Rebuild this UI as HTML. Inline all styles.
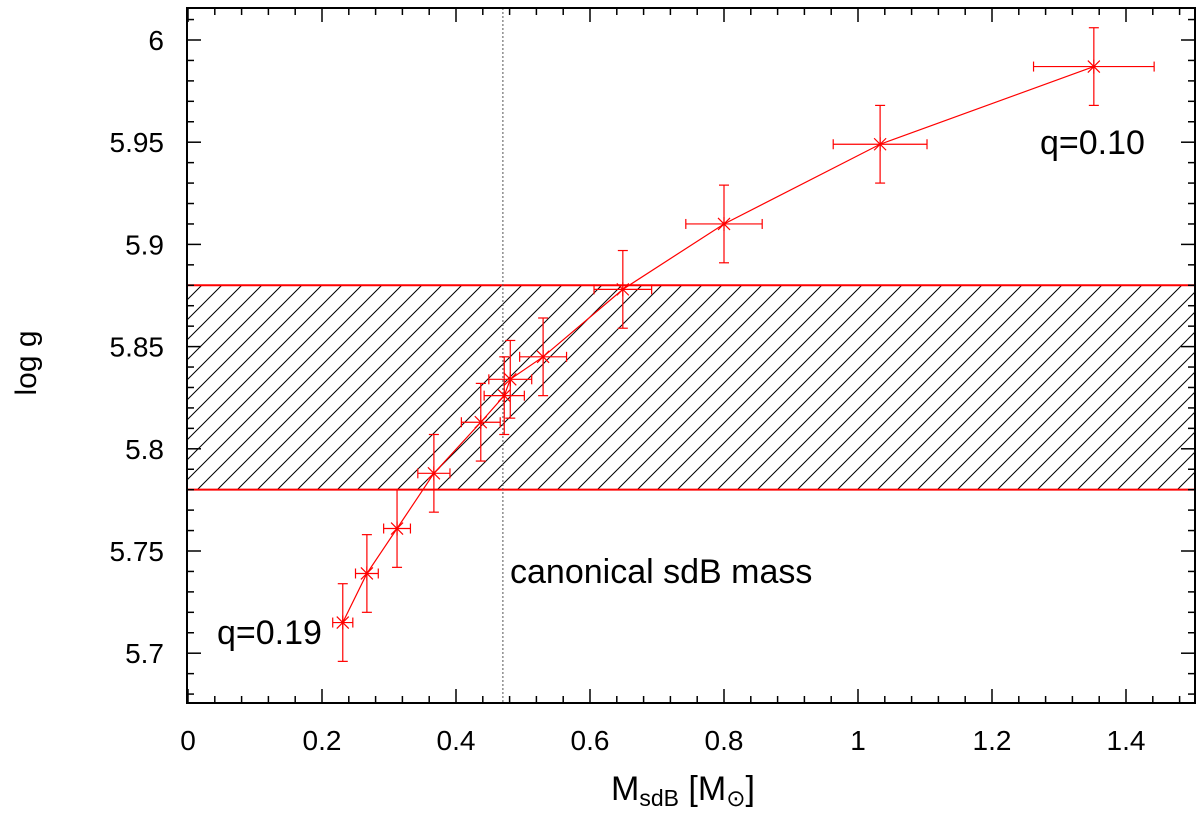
<!DOCTYPE html>
<html><head><meta charset="utf-8"><style>
body{margin:0;background:#fff;}
svg{display:block;font-family:"Liberation Sans",sans-serif;}
</style></head><body>
<svg id="chart" width="1200" height="822" viewBox="0 0 1200 822" xmlns="http://www.w3.org/2000/svg">
<defs>
<pattern id="hatch" patternUnits="userSpaceOnUse" width="20" height="20" patternTransform="translate(187,0)">
<path d="M-5,5 L5,-5 M0,20 L20,0 M15,25 L25,15" stroke="#000" stroke-width="1"/>
</pattern>
<clipPath id="plotclip"><rect x="187" y="8" width="1008" height="695"/></clipPath>
</defs>
<g id="marks" clip-path="url(#plotclip)"></g>
<g id="axes"></g>
</svg>
<script>
const massValues=[0.231,0.267,0.312,0.367,0.437,0.472,0.481,0.530,0.649,0.800,1.033,1.352];
const loggValues=[5.715,5.739,5.761,5.788,5.813,5.826,5.834,5.845,5.878,5.910,5.949,5.987];
const massErr=[0.015,0.017,0.020,0.024,0.029,0.030,0.032,0.035,0.043,0.057,0.070,0.090];
const loggErr=[0.019,0.019,0.019,0.019,0.019,0.019,0.019,0.019,0.019,0.019,0.019,0.019];
const bandLow=5.78, bandHigh=5.88, canonicalMass=0.47;
const xTickLabels=["0","0.2","0.4","0.6","0.8","1","1.2","1.4"];
const yTickLabels=["5.7","5.75","5.8","5.85","5.9","5.95","6"];

const L=187,R=1195,T=8,B=703;
const sx=v=>188+v*670;
const sy=v=>40+(6-v)*2044;
const NS="http://www.w3.org/2000/svg";
const marks=document.getElementById('marks'), axes=document.getElementById('axes');
function mk(tag,attrs,parent){const e=document.createElementNS(NS,tag);for(const k in attrs)e.setAttribute(k,attrs[k]);parent.appendChild(e);return e;}

let band=mk('rect',{x:L,y:sy(bandHigh),width:R-L,height:sy(bandLow)-sy(bandHigh),fill:'url(#hatch)'},marks);


let bl1=mk('line',{x1:L,x2:R,y1:sy(bandHigh),y2:sy(bandHigh),stroke:'#f00','stroke-width':2},marks);


let bl2=mk('line',{x1:L,x2:R,y1:sy(bandLow),y2:sy(bandLow),stroke:'#f00','stroke-width':2},marks);


let cl=mk('line',{x1:sx(canonicalMass),x2:sx(canonicalMass),y1:T,y2:B,stroke:'#555','stroke-width':1,'stroke-dasharray':'2,2'},marks);


let pts=massValues.map((m,i)=>sx(m)+','+sy(loggValues[i])).join(' ');
let pl=mk('polyline',{points:pts,fill:'none',stroke:'#f00','stroke-width':1.2},marks);


massValues.forEach((m,i)=>{
  const x=sx(m),y=sy(loggValues[i]);
  const g=mk('g',{stroke:'#f00','stroke-width':1.2},marks);
  
  
  const x0=sx(m-massErr[i]),x1=sx(m+massErr[i]),y0=sy(loggValues[i]+loggErr[i]),y1=sy(loggValues[i]-loggErr[i]);
  mk('line',{x1:x0,x2:x1,y1:y,y2:y},g);
  mk('line',{x1:x0,x2:x0,y1:y-5,y2:y+5},g);
  mk('line',{x1:x1,x2:x1,y1:y-5,y2:y+5},g);
  mk('line',{x1:x,x2:x,y1:y0,y2:y1},g);
  mk('line',{x1:x-5,x2:x+5,y1:y0,y2:y0},g);
  mk('line',{x1:x-5,x2:x+5,y1:y1,y2:y1},g);
  mk('path',{d:`M${x-6},${y-6}L${x+6},${y+6}M${x-6},${y+6}L${x+6},${y-6}M${x},${y-7}L${x},${y+7}`},g);
});

let fr=mk('rect',{x:L,y:T,width:R-L,height:B-T,fill:'none',stroke:'#000','stroke-width':2},axes);


for(let k=0;k<=37;k++){
  const v=k*0.04, x=sx(v); if(x>R)break;
  const major=(k%5===0), len=major?14:7;
  mk('line',{x1:x,x2:x,y1:B,y2:B-len,stroke:'#000','stroke-width':1.5},axes);
  mk('line',{x1:x,x2:x,y1:T,y2:T+len,stroke:'#000','stroke-width':1.5},axes);
}
xTickLabels.forEach((t,i)=>{
  const tx=mk('text',{x:sx(i*0.2),y:750,'font-size':28,'text-anchor':'middle'},axes);
  tx.textContent=t;
  
  
});
for(let k=0;k<=35;k++){
  const v=5.68+k*0.01, y=sy(v); if(y<T||y>B)continue;
  const major=(Math.round(v*100)%5===0), len=major?14:7;
  mk('line',{x1:L,x2:L+len,y1:y,y2:y,stroke:'#000','stroke-width':1.5},axes);
  mk('line',{x1:R,x2:R-len,y1:y,y2:y,stroke:'#000','stroke-width':1.5},axes);
}
yTickLabels.forEach((t,i)=>{
  const ty=mk('text',{x:164,y:sy(5.7+i*0.05)+10,'font-size':28,'text-anchor':'end'},axes);
  ty.textContent=t;
  
  
});
</script>
<svg style="position:absolute;left:0;top:0" width="1200" height="822" xmlns="http://www.w3.org/2000/svg" font-family="Liberation Sans, sans-serif">
<text x="36" y="363" font-size="30" text-anchor="middle" transform="rotate(-90 36 363)">log g</text>
<text x="611" y="800" font-size="34">M<tspan font-size="23" dy="6">sdB</tspan><tspan dy="-6"> [M</tspan><tspan font-size="23" dy="6">⊙</tspan><tspan dy="-6">]</tspan></text>
<text x="510" y="583" font-size="34">canonical sdB mass</text>
<text x="217" y="644" font-size="34">q=0.19</text>
<text x="1040" y="154" font-size="34">q=0.10</text>
</svg>
</body></html>
